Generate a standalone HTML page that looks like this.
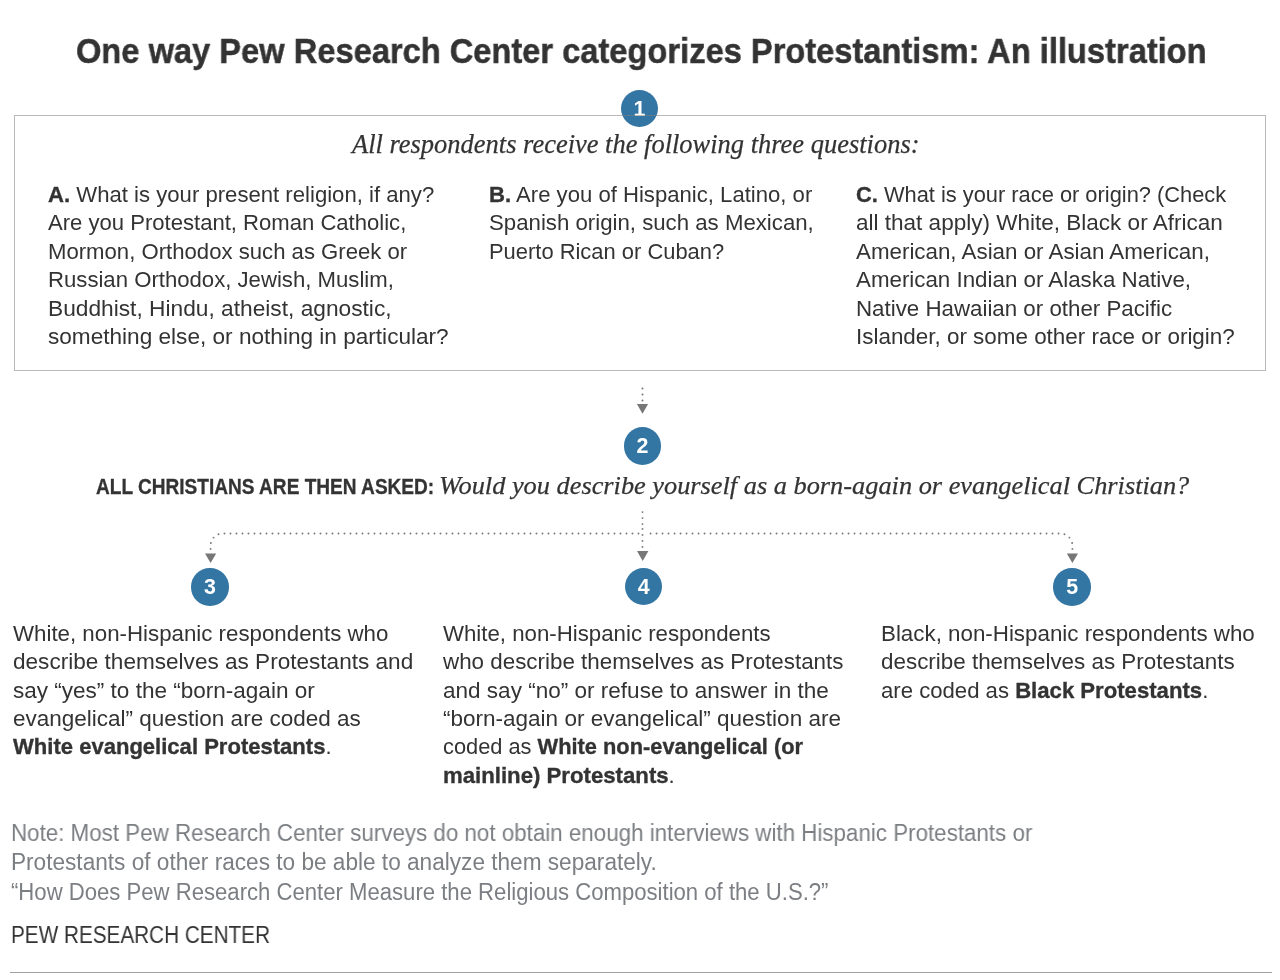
<!DOCTYPE html>
<html><head><meta charset="utf-8"><title>Protestantism illustration</title>
<style>
html,body{margin:0;padding:0;background:#fff;}
body{width:1280px;height:980px;position:relative;overflow:hidden;font-family:"Liberation Sans",sans-serif;color:#333;}
#w{position:absolute;left:0;top:0;width:1280px;height:980px;will-change:transform;}
.t{position:absolute;white-space:nowrap;transform-origin:0 0;line-height:30px;}
.ttl{font-size:35.5px;font-weight:bold;line-height:40px;-webkit-text-stroke:0.5px #333;}
.ser{font-family:"Liberation Serif",serif;font-style:italic;line-height:34px;-webkit-text-stroke:0.25px #333;}
.sub{font-size:26.3px;}
.q2{font-size:26.2px;}
.bd{font-size:22.8px;}
.hd{font-size:21.3px;font-weight:bold;-webkit-text-stroke:0.3px #333;}
.nt{font-size:23px;color:#7b7e82;}
.pw{font-size:23px;color:#333;}
b{font-weight:bold;-webkit-text-stroke:0.35px #333;}
.box{position:absolute;left:14px;top:115px;width:1250px;height:254px;border:1px solid rgba(128,128,128,0.55);}
.circ{position:absolute;width:37.5px;height:37.5px;border-radius:50%;background:#3476a3;color:#fff;font-weight:bold;font-size:21.4px;text-align:center;line-height:39.5px;}
.bl{display:inline-block;width:0;height:0;vertical-align:baseline;}

</style></head><body><div id="w">
<div class="circ" style="left:620.6px;top:89.8px;">1</div>
<div class="box"></div>
<svg style="position:absolute;left:0;top:0" width="1280" height="980">
  <g fill="#777">
    <circle cx="642.5" cy="388.5" r="1"/><circle cx="642.5" cy="394.5" r="1"/><circle cx="642.5" cy="400.5" r="1"/>
    <path d="M636.9 404 L648.1 404 L642.5 413.8 Z"/>
  </g>
  <g fill="none" stroke="#777" stroke-width="1.9" stroke-linecap="round" stroke-dasharray="0 6">
    <path d="M642.5 512.1 L642.5 525"/>
    <path d="M642.5 546.9 L642.5 528"/>
    <path d="M210.6 548.9 L210.6 545.5 A12 12 0 0 1 222.6 533.5 L640 533.5"/>
    <path d="M1072.4 548.9 L1072.4 545.5 A12 12 0 0 0 1060.4 533.5 L646 533.5"/>
  </g>
  <g fill="#777">
    <path d="M205 553.4 L216.2 553.4 L210.6 563 Z"/>
    <path d="M637 551 L648.4 551 L642.7 561 Z"/>
    <path d="M1066.8 553.4 L1078 553.4 L1072.4 563 Z"/>
  </g>
</svg>
<div class="circ" style="left:623.8px;top:427.2px;">2</div>
<div class="circ" style="left:191.3px;top:568px;">3</div>
<div class="circ" style="left:624.9px;top:567.8px;">4</div>
<div class="circ" style="left:1053.4px;top:568px;">5</div>
<div style="position:absolute;left:10px;top:972px;width:1262px;height:1px;background:#a0a0a0;"></div>

<div class="t ttl" id="title" style="left:76.40px;top:30.80px;transform:scaleX(0.9194)">One way Pew Research Center categorizes Protestantism: An illustration<span class="bl"></span></div>
<div class="t ser sub" id="sub" style="left:352.40px;top:127.50px;transform:scaleX(1.0066)">All respondents receive the following three questions:<span class="bl"></span></div>
<div class="t bd" id="a0" style="left:48.00px;top:179.00px;transform:scaleX(0.9707)"><b>A.</b> What is your present religion, if any?<span class="bl"></span></div>
<div class="t bd" id="a1" style="left:48.00px;top:207.41px;transform:scaleX(0.9683)">Are you Protestant, Roman Catholic,<span class="bl"></span></div>
<div class="t bd" id="a2" style="left:48.00px;top:235.80px;transform:scaleX(0.9710)">Mormon, Orthodox such as Greek or<span class="bl"></span></div>
<div class="t bd" id="a3" style="left:48.00px;top:264.21px;transform:scaleX(0.9714)">Russian Orthodox, Jewish, Muslim,<span class="bl"></span></div>
<div class="t bd" id="a4" style="left:48.00px;top:292.61px;transform:scaleX(0.9968)">Buddhist, Hindu, atheist, agnostic,<span class="bl"></span></div>
<div class="t bd" id="a5" style="left:48.00px;top:321.00px;transform:scaleX(0.9912)">something else, or nothing in particular?<span class="bl"></span></div>
<div class="t bd" id="b0" style="left:489.40px;top:179.00px;transform:scaleX(0.9700)"><b>B.</b> Are you of Hispanic, Latino, or<span class="bl"></span></div>
<div class="t bd" id="b1" style="left:489.40px;top:207.41px;transform:scaleX(0.9746)">Spanish origin, such as Mexican,<span class="bl"></span></div>
<div class="t bd" id="b2" style="left:489.40px;top:235.80px;transform:scaleX(0.9615)">Puerto Rican or Cuban?<span class="bl"></span></div>
<div class="t bd" id="c0" style="left:855.80px;top:179.00px;transform:scaleX(0.9579)"><b>C.</b> What is your race or origin? (Check<span class="bl"></span></div>
<div class="t bd" id="c1" style="left:855.80px;top:207.41px;transform:scaleX(0.9879)">all that apply) White, Black or African<span class="bl"></span></div>
<div class="t bd" id="c2" style="left:855.80px;top:235.80px;transform:scaleX(0.9801)">American, Asian or Asian American,<span class="bl"></span></div>
<div class="t bd" id="c3" style="left:855.80px;top:264.21px;transform:scaleX(0.9792)">American Indian or Alaska Native,<span class="bl"></span></div>
<div class="t bd" id="c4" style="left:855.80px;top:292.61px;transform:scaleX(0.9784)">Native Hawaiian or other Pacific<span class="bl"></span></div>
<div class="t bd" id="c5" style="left:855.80px;top:321.00px;transform:scaleX(0.9832)">Islander, or some other race or origin?<span class="bl"></span></div>
<div class="t hd" id="hdr" style="left:95.80px;top:471.50px;transform:scaleX(0.8951)">ALL CHRISTIANS ARE THEN ASKED:<span class="bl"></span></div>
<div class="t ser q2" id="q2" style="left:438.50px;top:468.50px;transform:scaleX(1.0057)">Would you describe yourself as a born-again or evangelical Christian?<span class="bl"></span></div>
<div class="t bd" id="d0" style="left:13.36px;top:617.80px;transform:scaleX(0.9776)">White, non-Hispanic respondents who<span class="bl"></span></div>
<div class="t bd" id="d1" style="left:13.36px;top:646.21px;transform:scaleX(0.9900)">describe themselves as Protestants and<span class="bl"></span></div>
<div class="t bd" id="d2" style="left:13.36px;top:674.61px;transform:scaleX(0.9880)">say “yes” to the “born-again or<span class="bl"></span></div>
<div class="t bd" id="d3" style="left:13.36px;top:703.00px;transform:scaleX(0.9869)">evangelical” question are coded as<span class="bl"></span></div>
<div class="t bd" id="d4" style="left:13.36px;top:731.41px;transform:scaleX(0.9671)"><b>White evangelical Protestants</b>.<span class="bl"></span></div>
<div class="t bd" id="e0" style="left:443.20px;top:617.80px;transform:scaleX(0.9757)">White, non-Hispanic respondents<span class="bl"></span></div>
<div class="t bd" id="e1" style="left:443.20px;top:646.21px;transform:scaleX(0.9815)">who describe themselves as Protestants<span class="bl"></span></div>
<div class="t bd" id="e2" style="left:443.20px;top:674.61px;transform:scaleX(0.9884)">and say “no” or refuse to answer in the<span class="bl"></span></div>
<div class="t bd" id="e3" style="left:443.20px;top:703.00px;transform:scaleX(0.9875)">“born-again or evangelical” question are<span class="bl"></span></div>
<div class="t bd" id="e4" style="left:443.20px;top:731.41px;transform:scaleX(0.9568)">coded as <b>White non-evangelical (or</b><span class="bl"></span></div>
<div class="t bd" id="e5" style="left:443.20px;top:759.80px;transform:scaleX(0.9732)"><b>mainline) Protestants</b>.<span class="bl"></span></div>
<div class="t bd" id="f0" style="left:881.40px;top:617.80px;transform:scaleX(0.9800)">Black, non-Hispanic respondents who<span class="bl"></span></div>
<div class="t bd" id="f1" style="left:881.40px;top:646.21px;transform:scaleX(0.9829)">describe themselves as Protestants<span class="bl"></span></div>
<div class="t bd" id="f2" style="left:881.40px;top:674.61px;transform:scaleX(0.9710)">are coded as <b>Black Protestants</b>.<span class="bl"></span></div>
<div class="t nt" id="n0" style="left:10.60px;top:817.80px;transform:scaleX(0.9719)">Note: Most Pew Research Center surveys do not obtain enough interviews with Hispanic Protestants or<span class="bl"></span></div>
<div class="t nt" id="n1" style="left:10.60px;top:847.11px;transform:scaleX(0.9833)">Protestants of other races to be able to analyze them separately.<span class="bl"></span></div>
<div class="t nt" id="n2" style="left:10.60px;top:876.61px;transform:scaleX(0.9616)">“How Does Pew Research Center Measure the Religious Composition of the U.S.?”<span class="bl"></span></div>
<div class="t pw" id="pew" style="left:11.40px;top:919.71px;transform:scaleX(0.9007)">PEW RESEARCH CENTER<span class="bl"></span></div>
</div></body></html>
